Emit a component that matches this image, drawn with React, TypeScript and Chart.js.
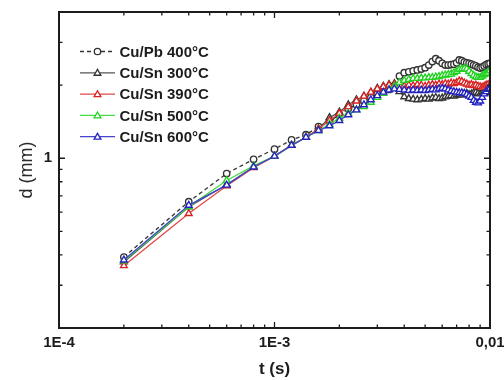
import React, { useEffect, useRef } from "react";
import { Chart, registerables } from "chart.js";

Chart.register(...registerables);

// time (s)
const times = [
  0.0002, 0.0004, 0.0006, 0.0008, 0.001, 0.0012, 0.0014, 0.0016, 0.0018, 0.002,
  0.0022, 0.0024, 0.0026, 0.0028, 0.003, 0.0032, 0.0034, 0.0036, 0.0038, 0.004,
  0.0042, 0.0044, 0.0046, 0.0048, 0.005, 0.0052, 0.0054, 0.0056, 0.0058, 0.006,
  0.0062, 0.0064, 0.0066, 0.0068, 0.007, 0.0072, 0.0074, 0.0076, 0.0078, 0.008,
  0.0082, 0.0084, 0.0086, 0.0088, 0.009, 0.0092, 0.0094, 0.0096, 0.0098, 0.01,
];

// d (mm)
const cuPb400 = [
  0.392, 0.662, 0.865, 0.99, 1.09, 1.19, 1.25, 1.35, 1.42, 1.51,
  1.6, 1.66, 1.72, 1.78, 1.84, 1.88, 1.92, 1.99, 2.18, 2.25,
  2.27, 2.29, 2.31, 2.33, 2.36, 2.42, 2.5, 2.57, 2.52, 2.46,
  2.42, 2.42, 2.43, 2.44, 2.47, 2.54, 2.52, 2.49, 2.47, 2.46,
  2.44, 2.42, 2.4, 2.37, 2.35, 2.37, 2.4, 2.43, 2.45, 2.46,
];
const cuSn300 = [
  0.374, 0.63, 0.78, 0.92, 1.02, 1.13, 1.22, 1.32, 1.47, 1.55,
  1.66, 1.74, 1.8, 1.87, 1.94, 1.98, 2.01, 2.03, 1.88, 1.79,
  1.76, 1.75, 1.74, 1.75, 1.76, 1.75, 1.77, 1.78, 1.76, 1.77,
  1.79, 1.8, 1.81, 1.8, 1.82, 1.83, 1.82, 1.84, 1.85, 1.83,
  1.84, 1.86, 1.87, 1.85, 1.84, 1.86, 1.88, 1.87, 1.86, 1.88,
];
const cuSn390 = [
  0.361, 0.592, 0.77, 0.915, 1.02, 1.13, 1.22, 1.32, 1.43, 1.53,
  1.63, 1.72, 1.8, 1.87, 1.93, 1.97, 2.0, 2.01, 1.99, 1.98,
  2.0, 1.99, 2.01, 2.0, 1.98, 2.0, 2.01, 2.0, 2.02, 2.01,
  2.03, 2.02, 2.04, 2.03, 2.05, 2.08, 2.07, 2.04, 2.02, 2.0,
  2.01, 1.99, 2.0, 1.98, 1.97, 1.96, 1.98, 2.0, 2.01, 2.0,
];
const cuSn500 = [
  0.378, 0.632, 0.81, 0.93, 1.02, 1.13, 1.22, 1.3, 1.38, 1.46,
  1.53, 1.58, 1.63, 1.7, 1.78, 1.85, 1.92, 1.98, 2.05, 2.09,
  2.11, 2.13, 2.13, 2.14, 2.14, 2.15, 2.15, 2.16, 2.17, 2.19,
  2.2, 2.21, 2.22, 2.25, 2.28, 2.32, 2.33, 2.34, 2.33, 2.28,
  2.23, 2.19, 2.16, 2.15, 2.15, 2.18, 2.21, 2.23, 2.26, 2.3,
];
const cuSn600 = [
  0.381, 0.64, 0.775, 0.92, 1.02, 1.13, 1.22, 1.3, 1.36, 1.43,
  1.51, 1.58, 1.66, 1.74, 1.81, 1.87, 1.91, 1.93, 1.92, 1.91,
  1.9, 1.91, 1.9, 1.91, 1.9, 1.91, 1.92, 1.91, 1.93, 1.94,
  1.93, 1.91, 1.89, 1.88, 1.87, 1.86, 1.86, 1.85, 1.83, 1.8,
  1.78, 1.73, 1.7, 1.69, 1.72, 1.78, 1.84, 1.88, 1.92, 1.94,
];

const seriesLabels = ["Cu/Pb 400°C", "Cu/Sn 300°C", "Cu/Sn 390°C", "Cu/Sn 500°C", "Cu/Sn 600°C"];

const xTickValues = [
  0.0001, 0.0002, 0.0003, 0.0004, 0.0005, 0.0006, 0.0007, 0.0008, 0.0009,
  0.001, 0.002, 0.003, 0.004, 0.005, 0.006, 0.007, 0.008, 0.009, 0.01,
];
const xMajorTicks = [0.0001, 0.001, 0.01];
const xTickLabels = ["1E-4", "1E-3", "0,01"];

const yTickValues = [0.3, 0.4, 0.5, 0.6, 0.7, 0.8, 0.9, 1, 2, 3];
const yMajorTicks = [1];
const yTickLabels = ["1"];

const FAMILY = '"Liberation Sans", Arial, sans-serif';
const INK = "#1c1c1c";

function tri(ctx: CanvasRenderingContext2D, x: number, y: number, r: number) {
  const a = (2 * Math.PI) / 3;
  ctx.beginPath();
  ctx.moveTo(x, y - r);
  ctx.lineTo(x + Math.sin(a) * r, y - Math.cos(a) * r);
  ctx.lineTo(x + Math.sin(2 * a) * r, y - Math.cos(2 * a) * r);
  ctx.closePath();
}

const framePlugin = {
  id: "frameTicks",
  afterDatasetsDraw(chart: any) {
    const { ctx, chartArea } = chart;
    const { left, right, top, bottom } = chartArea;
    const xs = chart.scales.x;
    const ys = chart.scales.y;
    ctx.save();
    ctx.strokeStyle = INK;
    ctx.lineWidth = 1.3;
    xs.ticks.forEach((t: any) => {
      const px = xs.getPixelForValue(t.value);
      const len = xMajorTicks.includes(t.value) ? 6 : 3.5;
      ctx.beginPath();
      ctx.moveTo(px, bottom);
      ctx.lineTo(px, bottom - len);
      ctx.moveTo(px, top);
      ctx.lineTo(px, top + len);
      ctx.stroke();
    });
    ys.ticks.forEach((t: any) => {
      const py = ys.getPixelForValue(t.value);
      const len = yMajorTicks.includes(t.value) ? 6 : 3.5;
      ctx.beginPath();
      ctx.moveTo(left, py);
      ctx.lineTo(left + len, py);
      ctx.moveTo(right, py);
      ctx.lineTo(right - len, py);
      ctx.stroke();
    });
    ctx.lineWidth = 2;
    ctx.strokeRect(left, top, right - left, bottom - top);
    ctx.restore();
  },
};

const legendPlugin = {
  id: "insideLegend",
  afterDraw(chart: any) {
    const { ctx, chartArea } = chart;
    const x0 = chartArea.left + 21;
    const x1 = chartArea.left + 56;
    const xm = (x0 + x1) / 2;
    ctx.save();
    chart.data.datasets.forEach((ds: any, i: number) => {
      const y = chartArea.top + 39.5 + i * 21.3;
      ctx.strokeStyle = ds.borderColor;
      ctx.lineWidth = 1.3;
      ctx.setLineDash(ds.borderDash || []);
      ctx.beginPath();
      ctx.moveTo(x0, y);
      ctx.lineTo(x1, y);
      ctx.stroke();
      ctx.setLineDash([]);
      ctx.fillStyle = "#ffffff";
      ctx.strokeStyle = ds.pointBorderColor;
      ctx.lineWidth = 1.3;
      if (ds.pointStyle === "circle") {
        ctx.beginPath();
        ctx.arc(xm, y, 3.2, 0, Math.PI * 2);
      } else {
        tri(ctx, xm, y + 0.5, 3.9);
      }
      ctx.fill();
      ctx.stroke();
      ctx.fillStyle = INK;
      ctx.font = `bold 15px ${FAMILY}`;
      ctx.textBaseline = "middle";
      ctx.textAlign = "left";
      ctx.fillText(ds.label, chartArea.left + 60.5, y + 1);
    });
    ctx.restore();
  },
};

function makeDataset(label: string, values: number[], color: string, pointColor: string, style: string, dash: number[], order: number) {
  return {
    label,
    data: times.map((t, i) => ({ x: t, y: values[i] })),
    borderColor: color,
    borderWidth: 1.3,
    borderDash: dash,
    pointStyle: style,
    pointRadius: style === "circle" ? 3.2 : 3.9,
    pointBorderColor: pointColor,
    pointBackgroundColor: "#ffffff",
    pointBorderWidth: 1.35,
    tension: 0,
    fill: false,
    order,
  };
}

export default function App() {
  const canvasRef = useRef<HTMLCanvasElement | null>(null);

  useEffect(() => {
    const canvas = canvasRef.current;
    if (!canvas) return;
    const chart = new Chart(canvas, {
      type: "line",
      data: {
        datasets: [
          makeDataset(seriesLabels[0], cuPb400, "#333333", "#333333", "circle", [4, 3], 4),
          makeDataset(seriesLabels[1], cuSn300, "#555555", "#333333", "triangle", [], 3),
          makeDataset(seriesLabels[2], cuSn390, "#e04848", "#d82020", "triangle", [], 2),
          makeDataset(seriesLabels[3], cuSn500, "#44dd44", "#22d022", "triangle", [], 1),
          makeDataset(seriesLabels[4], cuSn600, "#4444cc", "#2222c0", "triangle", [], 0),
        ] as any,
      },
      options: {
        responsive: false,
        animation: false,
        devicePixelRatio: 1,
        layout: { padding: { top: 12, left: 0, right: 0, bottom: 0 } },
        plugins: {
          legend: { display: false },
          tooltip: { enabled: false },
        },
        scales: {
          x: {
            type: "logarithmic",
            position: "bottom",
            min: 0.0001,
            max: 0.01,
            grid: { display: false, drawTicks: false },
            border: { display: false },
            ticks: {
              autoSkip: false,
              maxRotation: 0,
              minRotation: 0,
              padding: 6,
              color: INK,
              font: { family: FAMILY, size: 15, weight: "bold" },
              callback: (v: any) => {
                const i = xMajorTicks.indexOf(Number(v));
                return i >= 0 ? xTickLabels[i] : "";
              },
            },
            title: {
              display: true,
              text: "t (s)",
              color: INK,
              font: { family: FAMILY, size: 17, weight: "bold" },
              padding: { top: 0, bottom: 0 },
            },
            afterBuildTicks: (s: any) => {
              s.ticks = xTickValues.map((v) => ({ value: v }));
            },
            afterFit: (s: any) => {
              s.height = 52;
              s.paddingRight = 14;
              s.paddingLeft = 0;
            },
          },
          y: {
            type: "logarithmic",
            position: "left",
            min: 0.2,
            max: 4,
            grid: { display: false, drawTicks: false },
            border: { display: false },
            ticks: {
              autoSkip: false,
              padding: 7,
              color: INK,
              font: { family: FAMILY, size: 15, weight: "bold" },
              callback: (v: any) => {
                const i = yMajorTicks.indexOf(Number(v));
                return i >= 0 ? yTickLabels[i] : "";
              },
            },
            title: {
              display: true,
              text: "d (mm)",
              color: "#2a2a2a",
              font: { family: FAMILY, size: 18, weight: "normal" },
              padding: { top: 16, bottom: 0 },
            },
            afterBuildTicks: (s: any) => {
              s.ticks = yTickValues.map((v) => ({ value: v }));
            },
            afterFit: (s: any) => {
              s.width = 59;
              s.paddingTop = 0;
              s.paddingBottom = 0;
            },
          },
        },
      } as any,
      plugins: [framePlugin, legendPlugin],
    });
    return () => {
      chart.destroy();
    };
  }, []);

  return (
    <div style={{ position: "absolute", left: 0, top: 0, width: 504, height: 380, background: "#fff" }}>
      <canvas ref={canvasRef} width={504} height={380} style={{ display: "block" }} />
    </div>
  );
}
